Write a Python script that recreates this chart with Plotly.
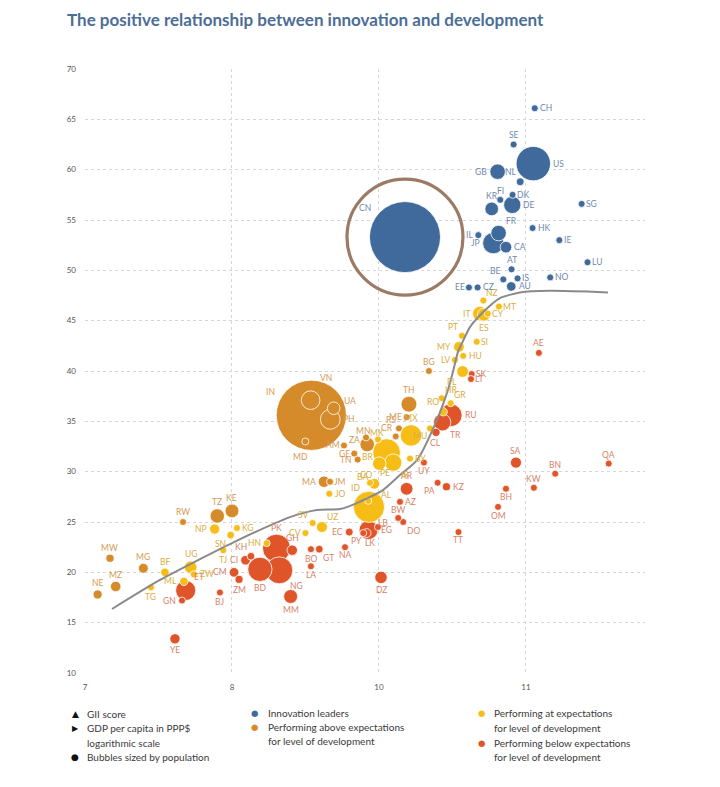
import math
import plotly.graph_objects as go

# ---------------- data ----------------
# x: GDP per capita in PPP$ (log-scale position), y: GII score, pop: population (millions)
leaders_codes = ["CH", "SE", "US", "GB", "NL", "DK", "FI", "SG", "DE", "KR", "HK", "FR", "IL",
                 "CN", "IE", "JP", "CA", "LU", "AT", "NO", "IS", "BE", "AU", "CZ", "EE"]
leaders_gdp = [10.06, 9.916, 10.05, 9.807, 9.961, 9.909, 9.825, 10.379, 9.907, 9.767, 10.045,
               9.814, 9.676, 9.177, 10.227, 9.778, 9.864, 10.419, 9.902, 10.165, 9.943, 9.846,
               9.90, 9.671, 9.612]
leaders_gii = [66.1, 62.5, 60.6, 59.8, 58.8, 57.5, 57.0, 56.6, 56.5, 56.1, 54.2, 53.7, 53.5,
               53.3, 53.0, 52.7, 52.3, 50.8, 50.1, 49.3, 49.2, 49.1, 48.4, 48.3, 48.3]
leaders_pop = [8.6, 10.2, 328, 66.8, 17.3, 5.8, 5.5, 5.7, 83, 51.7, 7.5, 67, 9.1,
               1398, 4.9, 126, 37.6, 0.63, 8.9, 5.3, 0.36, 11.5, 25.4, 10.7, 1.3]

above_codes = ["IN", "VN", "UA", "PH", "MD", "TH", "BG", "ME", "RS", "CR", "MN", "ZA", "AM",
               "GE", "TN", "MA", "JM", "TZ", "KE", "RW", "MW", "MG", "MZ", "NE"]
above_gdp = [8.54, 8.535, 8.692, 8.669, 8.499, 9.204, 9.34, 9.188, 9.136, 9.114, 8.912, 8.92,
             8.762, 8.832, 8.855, 8.626, 8.667, 7.90, 8.00, 7.667, 7.17, 7.397, 7.209, 7.086]
above_gii = [35.6, 37.1, 36.3, 35.2, 33.0, 36.7, 40.0, 35.4, 34.3, 33.5, 33.4, 32.7, 32.6,
             31.8, 31.2, 29.0, 29.0, 25.6, 26.1, 25.0, 21.4, 20.4, 18.6, 17.8]
above_pop = [1366, 96.5, 44, 108, 2.7, 69.6, 7.0, 0.62, 6.9, 5.0, 3.2, 58.6, 3.0,
             3.7, 11.7, 36.5, 2.9, 58, 52.6, 12.6, 18.6, 27, 30.4, 23.3]

at_codes = ["NZ", "MT", "IT", "CY", "ES", "PT", "SI", "MY", "HU", "LV", "PL", "HR", "GR", "RO",
            "MU", "MX", "MK", "BR", "BY", "IR", "CO", "BA", "PE", "JO", "ID", "AL", "SV", "UZ",
            "CV", "HN", "NP", "KG", "SN", "TJ", "UG", "BF", "ZW", "ML", "TG"]
at_gdp = [9.71, 9.816, 9.687, 9.74, 9.714, 9.565, 9.665, 9.544, 9.573, 9.517, 9.569, 9.427,
          9.488, 9.437, 9.347, 9.218, 8.993, 9.052, 9.211, 9.097, 9.002, 8.939, 8.968, 8.662,
          8.932, 8.927, 8.549, 8.612, 8.50, 8.236, 7.882, 8.034, 7.991, 7.941, 7.719, 7.544,
          7.741, 7.673, 7.449]
at_gii = [47.0, 46.4, 45.7, 45.7, 45.6, 43.5, 42.9, 42.4, 41.5, 41.1, 39.95, 37.3, 36.8, 35.95,
          34.3, 33.6, 33.2, 31.9, 31.3, 30.9, 30.8, 28.9, 28.8, 27.8, 26.5, 27.1, 24.9, 24.5,
          23.9, 22.9, 24.3, 24.4, 23.7, 22.2, 20.5, 20.0, 19.8, 19.1, 18.5]
at_pop = [4.9, 0.5, 60.3, 1.2, 47, 10.3, 2.1, 32, 9.8, 1.9, 38, 4.1, 10.7, 19.4,
          1.3, 127, 2.1, 211, 9.5, 83, 50, 3.3, 32.5, 10.1, 270, 2.9, 6.5, 33.6,
          0.55, 9.7, 28.6, 6.4, 16.3, 9.3, 44, 20, 14.6, 19.7, 8.1]

below_codes = ["AE", "SK", "LT", "RU", "TR", "CL", "UY", "SA", "QA", "BN", "KW", "BH", "OM",
               "TT", "PA", "KZ", "AR", "AZ", "BW", "DO", "LB", "EG", "LK", "PY", "EC", "NA",
               "GT", "BO", "GH", "PK", "KH", "CI", "BD", "NG", "LA", "DZ", "MM", "CM", "ZM",
               "ET", "BJ", "GN", "YE"]
below_gdp = [10.088, 9.631, 9.626, 9.488, 9.43, 9.388, 9.306, 9.932, 10.563, 10.199, 10.054,
             9.864, 9.81, 9.541, 9.399, 9.459, 9.188, 9.143, 9.131, 9.165, 8.993, 8.929, 8.916,
             8.893, 8.798, 8.769, 8.594, 8.537, 8.41, 8.303, 8.129, 8.092, 8.19, 8.322, 8.537,
             9.014, 8.399, 8.014, 8.048, 7.685, 7.918, 7.66, 7.612]
below_gii = [41.8, 39.7, 39.2, 35.6, 34.9, 33.9, 30.9, 30.9, 30.8, 29.8, 28.4, 28.3, 26.5,
             24.0, 28.9, 28.5, 28.3, 27.0, 25.4, 25.0, 24.5, 24.2, 23.9, 23.9, 24.0, 22.5,
             22.3, 22.3, 22.2, 22.4, 21.6, 21.2, 20.3, 20.2, 20.6, 19.5, 17.6, 20.0, 19.3,
             18.2, 18.0, 17.2, 13.4]
below_pop = [9.8, 5.5, 2.8, 144, 83, 19, 3.5, 34, 2.8, 0.43, 4.2, 1.6, 5.0,
             1.4, 4.2, 18.5, 44.9, 10.0, 2.3, 10.7, 6.9, 100, 21.8, 7.0, 17.4, 2.5,
             16.6, 11.5, 30.4, 217, 16.5, 25.7, 163, 201, 7.2, 43, 54, 25.9, 17.9,
             112, 11.8, 12.8, 29.2]

# fitted trend curve
trend_gdp = [7.184, 7.510, 8.000, 8.395, 8.578, 8.735, 8.850, 9.027, 9.143, 9.259, 9.388,
             9.469, 9.503, 9.537, 9.565, 9.619, 9.701, 9.823, 9.959, 10.163, 10.558]
trend_gii = [16.36, 19.24, 22.91, 25.49, 26.19, 26.29, 26.88, 28.17, 29.66, 31.15, 34.93,
             38.10, 39.89, 41.88, 42.77, 44.36, 45.74, 47.24, 47.79, 47.96, 47.81]

x_tickvals = [7, 8, 9, 10]
x_ticktext = ["7", "8", "10", "11"]
y_tickvals = list(range(10, 71, 5))

# ---------------- styling ----------------
C_BLUE, C_ORANGE, C_YELLOW, C_RED = "#3f6a9b", "#d68b2a", "#f6bd17", "#e0542a"
L_BLUE, L_ORANGE, L_YELLOW, L_RED = "#7189ad", "#d49a55", "#d9ae42", "#d6836a"
R_K, R_MIN = 0.95, 1.75
FONT = "Lato, 'Open Sans', sans-serif"

# label placement (direction keyword) and explicit pixel offsets for crowded cases
LABEL_POS = {
    "CH": "r", "SE": "t", "US": "r", "GB": "l", "NL": "tl", "FI": "t", "DK": "r", "KR": "t",
    "DE": "r", "SG": "r", "HK": "r", "FR": "tr", "IL": "l", "JP": "l", "CA": "r", "IE": "r",
    "AT": "t", "LU": "r", "BE": "tl", "IS": "r", "NO": "r", "EE": "l", "CZ": "r", "AU": "r",
    "NZ": "tr", "MT": "r", "IT": "l", "CY": "r", "ES": "b", "PT": "tl", "SI": "r", "MY": "l",
    "HU": "r", "LV": "l", "BG": "t", "PL": "bl", "SK": "r", "LT": "r", "AE": "t", "HR": "tr",
    "GR": "tr", "TH": "t", "RO": "tl", "RU": "r", "ME": "l", "PH": "r", "TR": "br", "MU": "bl",
    "RS": "tl", "CL": "b", "MX": "t", "CR": "tl", "AM": "l", "GE": "l", "TN": "l", "BY": "r",
    "UY": "b", "IR": "br", "CO": "bl", "SA": "t", "QA": "t", "BN": "t", "PE": "tr", "MA": "l",
    "JM": "r", "PA": "bl", "KZ": "r", "AR": "t", "KW": "t", "BH": "b", "JO": "r", "AZ": "r",
    "BW": "t", "EG": "r", "DO": "br", "TT": "b", "OM": "b", "UZ": "tr", "SV": "tl", "EC": "l",
    "CV": "l", "NA": "b", "GT": "br", "BO": "b", "GH": "t", "HN": "l", "PK": "t", "KH": "tl",
    "CI": "l", "TZ": "t", "KE": "t", "RW": "t", "NP": "l", "KG": "r", "SN": "bl", "TJ": "b",
    "MW": "t", "MG": "t", "UG": "t", "BF": "t", "CM": "l", "ZW": "r", "ZM": "b", "ML": "l",
    "MZ": "t", "TG": "b", "ET": "tr", "NE": "t", "BJ": "b", "GN": "l", "BD": "b", "NG": "br",
    "LA": "b", "DZ": "b", "MM": "b", "YE": "b",
}
LABEL_OFFSET = {  # (dx, dy) in px, dy positive downward
    "CN": (-40, -29), "AL": (18, -6), "LB": (5, -4), "PY": (-7, 8), "LK": (3, 10),
    "BA": (-8, -6), "MN": (-3, -6), "MK": (-1, -6), "ID": (-13, -19), "ZA": (-13, -4),
    "BR": (-19, 4), "IN": (-41, -23), "VN": (15, -22), "UA": (16, -7), "MD": (-5, 16),
}

fig = go.Figure()

# highlight ring around China
cn_i = leaders_codes.index("CN")
fig.add_trace(go.Scatter(
    x=[leaders_gdp[cn_i]], y=[leaders_gii[cn_i]], mode="markers", hoverinfo="skip",
    marker=dict(size=116, color="rgba(0,0,0,0)", line=dict(color="#9b7b66", width=3.2)),
    showlegend=False))

groups = [
    ("Performing below expectations", below_codes, below_gdp, below_gii, below_pop, C_RED, L_RED),
    ("Performing above expectations", above_codes, above_gdp, above_gii, above_pop, C_ORANGE, L_ORANGE),
    ("Performing at expectations", at_codes, at_gdp, at_gii, at_pop, C_YELLOW, L_YELLOW),
    ("Innovation leaders", leaders_codes, leaders_gdp, leaders_gii, leaders_pop, C_BLUE, L_BLUE),
]

annotations = []
for name, codes, xs, ys, pops, col, lcol in groups:
    order = sorted(range(len(codes)), key=lambda i: -pops[i])
    fig.add_trace(go.Scatter(
        x=[xs[i] for i in order], y=[ys[i] for i in order],
        text=[codes[i] for i in order], mode="markers", name=name,
        marker=dict(size=[pops[i] for i in order], sizemode="area",
                    sizeref=1.0 / (2 * R_K ** 2), sizemin=2 * R_MIN,
                    color=col, line=dict(color="white", width=0.8), opacity=1),
        hovertemplate="%{text}<br>GII %{y}<extra></extra>", showlegend=False))
    for c, x, y, p in zip(codes, xs, ys, pops):
        r = max(R_K * math.sqrt(p), R_MIN)
        a = dict(x=x, y=y, xref="x", yref="y", text=c, showarrow=False,
                 font=dict(family=FONT, size=8.5, color=lcol), borderpad=0)
        if c in LABEL_OFFSET:
            dx, dy = LABEL_OFFSET[c]
            a.update(xanchor="center", yanchor="middle", xshift=dx, yshift=-dy)
        else:
            pos = LABEL_POS.get(c, "r")
            d = 0.7 * r + 0.5
            if pos == "r":
                a.update(xanchor="left", yanchor="middle", xshift=r + 1.5)
            elif pos == "l":
                a.update(xanchor="right", yanchor="middle", xshift=-(r + 1.5))
            elif pos == "t":
                a.update(xanchor="center", yanchor="bottom", yshift=r + 0.5)
            elif pos == "b":
                a.update(xanchor="center", yanchor="top", yshift=-(r + 0.5))
            elif pos == "tr":
                a.update(xanchor="left", yanchor="bottom", xshift=d, yshift=d)
            elif pos == "tl":
                a.update(xanchor="right", yanchor="bottom", xshift=-d, yshift=d)
            elif pos == "br":
                a.update(xanchor="left", yanchor="top", xshift=d, yshift=-d)
            elif pos == "bl":
                a.update(xanchor="right", yanchor="top", xshift=-d, yshift=-d)
        annotations.append(a)

# trend curve on top of bubbles
fig.add_trace(go.Scatter(x=trend_gdp, y=trend_gii, mode="lines", hoverinfo="skip",
                         line=dict(color="#8a8a8a", width=2, shape="spline", smoothing=0.6),
                         showlegend=False))

# ---------------- layout ----------------
W, H = 720, 787
ML_, MR_, MT_, MB_ = 85, 75, 69, 114


def px_x(px):
    return (px - ML_) / (W - ML_ - MR_)


def px_y(py):
    return (H - MB_ - py) / (H - MT_ - MB_)


def legend_text(px, py, text, color="#3a3a3a", size=10):
    annotations.append(dict(x=px_x(px), y=px_y(py), xref="paper", yref="paper", text=text,
                            showarrow=False, xanchor="left", yanchor="middle",
                            font=dict(family=FONT, size=size, color=color)))


def legend_sym(px, py, sym, color, size=10):
    annotations.append(dict(x=px_x(px), y=px_y(py), xref="paper", yref="paper", text=sym,
                            showarrow=False, xanchor="center", yanchor="middle",
                            font=dict(family="DejaVu Sans", size=size, color=color)))


legend_sym(75, 714, "▲", "#111", 9)
legend_sym(75, 728, "▶", "#111", 8)
legend_sym(75, 757, "●", "#111", 9)
legend_text(85, 714, "GII score")
legend_text(85, 728, "GDP per capita in PPP$")
legend_text(85, 743, "logarithmic scale")
legend_text(85, 757, "Bubbles sized by population")

legend_sym(254, 713, "●", C_BLUE, 8.5)
legend_sym(254, 727, "●", C_ORANGE, 8.5)
legend_text(266, 713, "Innovation leaders")
legend_text(266, 727, "Performing above expectations")
legend_text(266, 741, "for level of development")

legend_sym(481, 713, "●", C_YELLOW, 8.5)
legend_sym(481, 743, "●", C_RED, 8.5)
legend_text(492, 713, "Performing at expectations")
legend_text(492, 728, "for level of development")
legend_text(492, 743, "Performing below expectations")
legend_text(492, 757, "for level of development")

fig.update_layout(
    width=W, height=H,
    margin=dict(l=ML_, r=MR_, t=MT_, b=MB_),
    paper_bgcolor="white", plot_bgcolor="white",
    title=dict(text="<b>The positive relationship between innovation and development</b>",
               x=67 / W, xanchor="left", xref="container", y=1 - 20 / H, yanchor="middle",
               yref="container", font=dict(family=FONT, size=17, color="#4b6e98")),
    xaxis=dict(range=[7, 10.81], tickvals=x_tickvals, ticktext=x_ticktext,
               showgrid=True, gridcolor="#d6d6d6", griddash="dot", gridwidth=1,
               zeroline=False, showline=False, ticks="", ticklabelstandoff=8,
               tickfont=dict(family=FONT, size=8, color="#555")),
    yaxis=dict(range=[10, 70], tickvals=y_tickvals,
               showgrid=True, gridcolor="#d6d6d6", griddash="dot", gridwidth=1,
               zeroline=False, showline=False, ticks="", ticklabelstandoff=8,
               tickfont=dict(family=FONT, size=8, color="#555")),
    annotations=annotations,
    showlegend=False,
)

fig.write_html("out.html", config={"displayModeBar": False},
               post_script="document.body.style.margin='0';")
